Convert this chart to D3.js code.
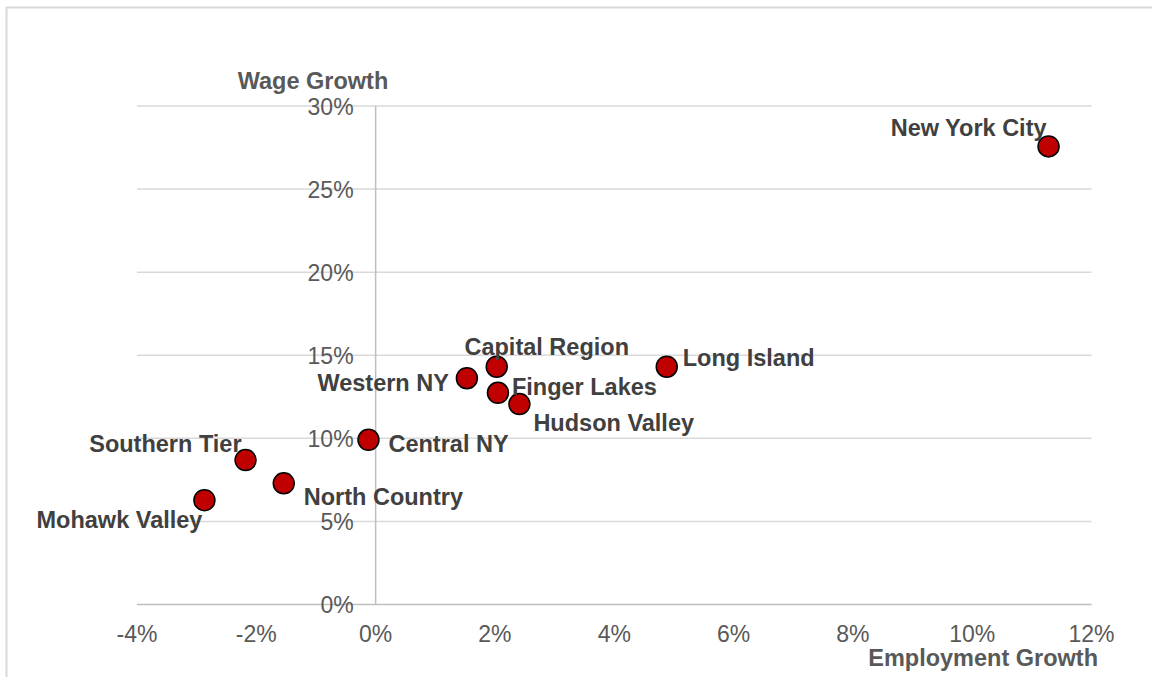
<!DOCTYPE html>
<html>
<head>
<meta charset="utf-8">
<script src="https://cdn.jsdelivr.net/npm/d3@7"></script>
<style>
  body { margin: 0; background: #fff; }
  svg { display: block; font-family: "Liberation Sans", Arial, sans-serif; }
</style>
</head>
<body>
<div class="container"></div>
<script>
// regions and their growth rates (percent)
const regions = ["New York City", "Long Island", "Capital Region", "Western NY", "Finger Lakes",
                 "Hudson Valley", "Central NY", "Southern Tier", "North Country", "Mohawk Valley"]
const employmentGrowth = [11.28, 4.88, 2.03, 1.53, 2.05, 2.41, -0.12, -2.18, -1.54, -2.87]
const wageGrowth = [27.57, 14.31, 14.31, 13.62, 12.74, 12.06, 9.91, 8.69, 7.29, 6.28]

// tick labels
const xTicks = [-4, -2, 0, 2, 4, 6, 8, 10, 12]
const yTicks = [0, 5, 10, 15, 20, 25, 30]

// label placement next to each point: [dx, dy, anchor]
const labelPlace = [
    [-2, -19, "end"], [16, -9, "start"], [50, -20, "middle"], [-18, 4, "end"], [14, -6, "start"],
    [14, 18, "start"], [20, 4, "start"], [-4, -17, "end"], [20, 13, "start"], [-2, 19, "end"]
]

const W = 1152, H = 677

const svg = d3.select("div.container").append("svg")
    .attr("width", W)
    .attr("height", H)

// outer chart frame (runs past the bottom/right edge)
svg.append("rect")
    .attr("x", 6.5).attr("y", 7.5)
    .attr("width", 1170).attr("height", 700)
    .attr("fill", "none")
    .attr("stroke", "#d9d9d9")
    .attr("stroke-width", 2)

// scales
const x = d3.scaleLinear().domain([-4, 12]).range([137, 1091.5])
const y = d3.scaleLinear().domain([0, 30]).range([604.5, 106])

// horizontal gridlines
svg.selectAll(".grid")
    .data(yTicks.filter(d => d !== 0))
    .enter().append("line")
    .attr("class", "grid")
    .attr("x1", x(-4)).attr("x2", x(12))
    .attr("y1", d => y(d)).attr("y2", d => y(d))
    .attr("stroke", "#d9d9d9")
    .attr("stroke-width", 1.5)

// axis lines crossing at 0
svg.append("line")
    .attr("x1", x(-4)).attr("x2", x(12))
    .attr("y1", y(0)).attr("y2", y(0))
    .attr("stroke", "#bfbfbf").attr("stroke-width", 1.5)
svg.append("line")
    .attr("x1", x(0)).attr("x2", x(0))
    .attr("y1", y(0)).attr("y2", y(30))
    .attr("stroke", "#bfbfbf").attr("stroke-width", 1.5)

// tick labels
svg.selectAll(".xtick")
    .data(xTicks)
    .enter().append("text")
    .attr("class", "xtick")
    .attr("x", d => x(d))
    .attr("y", 642)
    .attr("text-anchor", "middle")
    .attr("font-size", 23)
    .attr("fill", "#595959")
    .text(d => d + "%")

svg.selectAll(".ytick")
    .data(yTicks)
    .enter().append("text")
    .attr("class", "ytick")
    .attr("x", x(0) - 22)
    .attr("y", d => y(d) + 8.5)
    .attr("text-anchor", "end")
    .attr("font-size", 23)
    .attr("fill", "#595959")
    .text(d => d + "%")

// axis titles
svg.append("text")
    .attr("x", 313).attr("y", 89)
    .attr("text-anchor", "middle")
    .attr("font-size", 23.5).attr("font-weight", "bold")
    .attr("fill", "#595959")
    .text("Wage Growth")

svg.append("text")
    .attr("x", 1098).attr("y", 666)
    .attr("text-anchor", "end")
    .attr("font-size", 23.5).attr("font-weight", "bold")
    .attr("fill", "#595959")
    .text("Employment Growth")

const pts = regions.map((r, i) => ({ name: r, ex: employmentGrowth[i], wg: wageGrowth[i], lp: labelPlace[i] }))

// points
svg.selectAll(".dot")
    .data(pts)
    .enter().append("circle")
    .attr("class", "dot")
    .attr("cx", d => x(d.ex))
    .attr("cy", d => y(d.wg))
    .attr("r", 10.5)
    .attr("fill", "#c00000")
    .attr("stroke", "#000")
    .attr("stroke-width", 1.5)

// data labels
svg.selectAll(".lbl")
    .data(pts)
    .enter().append("text")
    .attr("class", "lbl")
    .attr("x", d => x(d.ex) + d.lp[0])
    .attr("y", d => y(d.wg) + d.lp[1] + 8.5)
    .attr("text-anchor", d => d.lp[2])
    .attr("font-size", 23.5).attr("font-weight", "bold")
    .attr("fill", "#404040")
    .text(d => d.name)
</script>
</body>
</html>
